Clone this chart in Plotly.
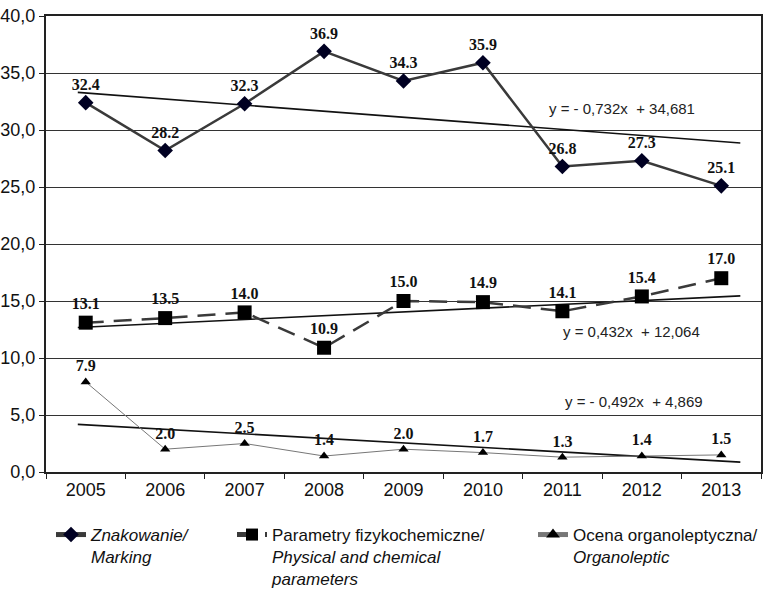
import plotly.graph_objects as go

years = ["2005", "2006", "2007", "2008", "2009", "2010", "2011", "2012", "2013"]
marking = [32.4, 28.2, 32.3, 36.9, 34.3, 35.9, 26.8, 27.3, 25.1]
physchem = [13.1, 13.5, 14.0, 10.9, 15.0, 14.9, 14.1, 15.4, 17.0]
organoleptic = [7.9, 2.0, 2.5, 1.4, 2.0, 1.7, 1.3, 1.4, 1.5]

# trend lines as drawn in the picture (start/end values)
trend_x = [-0.1, 8.24]
trend_marking = [33.3, 28.86]
trend_physchem = [12.68, 15.45]
trend_organoleptic = [4.18, 0.87]

eq_marking = "y = - 0,732x  + 34,681"
eq_physchem = "y = 0,432x  + 12,064"
eq_organoleptic = "y = - 0,492x  + 4,869"

y_ticks = [0, 5, 10, 15, 20, 25, 30, 35, 40]
y_ticktext = ["0,0", "5,0", "10,0", "15,0", "20,0", "25,0", "30,0", "35,0", "40,0"]

xs = list(range(len(years)))
label_font = dict(family="Liberation Serif", size=16, color="#111111")

fig = go.Figure()

# trend lines
for tv in (trend_marking, trend_physchem, trend_organoleptic):
    fig.add_trace(go.Scatter(x=trend_x, y=tv, mode="lines",
                             line=dict(color="#111111", width=1.6),
                             showlegend=False, hoverinfo="skip"))

fig.add_trace(go.Scatter(
    x=xs, y=marking, mode="lines+markers+text",
    name="<i>Znakowanie/<br>Marking</i>", legend="legend",
    line=dict(color="#3a3a3a", width=2.5),
    marker=dict(symbol="diamond", size=12, color="#000022"),
    text=[f"<b>{v:.1f}</b>" for v in marking], textposition="top center",
    textfont=label_font))

fig.add_trace(go.Scatter(
    x=xs, y=physchem, mode="lines+markers+text",
    name="Parametry fizykochemiczne/<br><i>Physical and chemical<br>parameters</i>", legend="legend2",
    line=dict(color="#3a3a3a", width=2.5, dash="18px,10px"),
    marker=dict(symbol="square", size=14, color="#000000"),
    text=[f"<b>{v:.1f}</b>" for v in physchem], textposition="top center",
    textfont=label_font))

fig.add_trace(go.Scatter(
    x=xs, y=organoleptic, mode="lines+markers+text",
    name="Ocena organoleptyczna/<br><i>Organoleptic</i>", legend="legend3",
    line=dict(color="#777777", width=1),
    marker=dict(symbol="triangle-up", size=9, color="#000000"),
    text=[f"<b>{v:.1f}</b>" for v in organoleptic], textposition="top center",
    textfont=label_font))

eq_font = dict(family="Liberation Sans", size=15, color="#222222")
fig.add_annotation(x=6.75, y=31.9, text=eq_marking, showarrow=False, font=eq_font, xanchor="center")
fig.add_annotation(x=6.87, y=12.35, text=eq_physchem, showarrow=False, font=eq_font, xanchor="center")
fig.add_annotation(x=6.9, y=6.2, text=eq_organoleptic, showarrow=False, font=eq_font, xanchor="center")

fig.update_xaxes(
    range=[-0.5, 8.5], tickvals=xs, ticktext=years, ticks="",
    showgrid=False, zeroline=False, automargin=False,
    showline=True, linecolor="#222222", linewidth=2, mirror=True,
    tickfont=dict(family="Liberation Sans", size=18, color="#111111"),
    minor=dict(tick0=0.5, dtick=1, ticks="outside", ticklen=5, tickcolor="#222222", showgrid=False),
)
fig.update_yaxes(
    range=[0, 40], tickvals=y_ticks, ticktext=y_ticktext,
    ticks="outside", ticklen=5, tickcolor="#222222",
    showgrid=True, gridcolor="#333333", gridwidth=1, zeroline=False, automargin=False,
    showline=True, linecolor="#222222", linewidth=2, mirror=True,
    tickfont=dict(family="Liberation Sans", size=18, color="#111111"),
)

W, H = 782, 590
leg_top = 1 - 517 / H
leg_common = dict(orientation="h", xref="container", yref="container",
                  yanchor="top", xanchor="left", itemwidth=30, valign="top",
                  font=dict(family="Liberation Sans", size=17, color="#111111"),
                  bgcolor="rgba(0,0,0,0)", itemsizing="constant")
fig.update_layout(
    width=W, height=H,
    margin=dict(l=46, r=21, t=16, b=118),
    plot_bgcolor="white", paper_bgcolor="white",
    legend=dict(leg_common, x=51 / W, y=leg_top),
    legend2=dict(leg_common, x=232 / W, y=leg_top),
    legend3=dict(leg_common, x=533 / W, y=leg_top),
    showlegend=True,
)

# remove the default 8px page margin so the figure fills the window exactly
fig.write_html("out.html", config={"displayModeBar": False},
               post_script="document.body.style.margin='0';")
